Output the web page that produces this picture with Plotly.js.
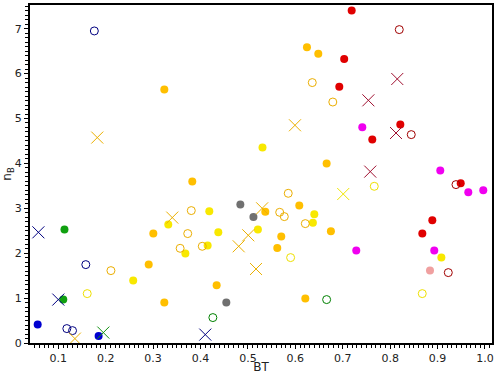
<!DOCTYPE html>
<html>
<head>
<meta charset="utf-8">
<script src="https://cdn.plot.ly/plotly-3.0.1.min.js"></script>
<style>
  body { margin: 0; background: #fff; }
  #chart { width: 500px; height: 374px; }
</style>
</head>
<body>
<div id="chart"></div>
<script>

// data (BT, n_B) per marker group
var navyOpenX = [0.176, 0.158, 0.118, 0.130];
var navyOpenY = [6.95, 1.746, 0.321, 0.276];

var navyCrossX = [0.058, 0.100, 0.410];
var navyCrossY = [2.465, 0.967, 0.187];

var blueX = [0.0565, 0.185];
var blueY = [0.41, 0.156];

var greenX = [0.113, 0.1105];
var greenY = [2.526, 0.967];

var greenOpenX = [0.666, 0.426];
var greenOpenY = [0.967, 0.566];

var greenCrossX = [0.195];
var greenCrossY = [0.232];

var greyX = [0.484, 0.5116, 0.4544];
var greyY = [3.082, 2.806, 0.90];

var goldX = [0.3236, 0.6245, 0.6484, 0.666, 0.3826, 0.5366, 0.6083, 0.5703, 0.5619, 0.675, 0.3004, 0.2907, 0.3236, 0.434, 0.621];
var goldY = [5.644, 6.586, 6.445, 3.996, 3.595, 2.926, 3.06, 2.37, 2.116, 2.488, 2.437, 1.746, 0.90, 1.285, 0.989];

var goldOpenX = [0.6357, 0.585, 0.567, 0.5767, 0.621, 0.3805, 0.373, 0.357, 0.4037, 0.211, 0.679];
var goldOpenY = [5.80, 3.334, 2.911, 2.815, 2.659, 2.949, 2.437, 2.109, 2.154, 1.612, 5.367];

var goldCrossX = [0.1822, 0.5992, 0.530, 0.3404, 0.5007, 0.4805, 0.517, 0.135];
var goldCrossY = [4.575, 4.849, 3.0, 2.793, 2.399, 2.154, 1.648, 0.098];

var yellowX = [0.5307, 0.640, 0.637, 0.332, 0.4185, 0.4375, 0.521, 0.415, 0.368, 0.258, 0.908];
var yellowY = [4.352, 2.866, 2.681, 2.637, 2.933, 2.465, 2.526, 2.169, 1.991, 1.39, 1.902];

var yellowOpenX = [0.590, 0.161, 0.7665, 0.8677];
var yellowOpenY = [1.902, 1.10, 3.49, 1.10];

var yellowCrossX = [0.701];
var yellowCrossY = [3.318];

var redX = [0.7188, 0.703, 0.6927, 0.8214, 0.7623, 0.9488, 0.8889, 0.8678];
var redY = [7.403, 6.325, 5.71, 4.864, 4.53, 3.557, 2.733, 2.437];

var redOpenX = [0.8192, 0.8445, 0.9388, 0.9226];
var redOpenY = [6.98, 4.641, 3.528, 1.568];

var redCrossX = [0.815, 0.754, 0.8123, 0.758];
var redCrossY = [5.88, 5.405, 4.677, 3.817];

var magentaX = [0.7412, 0.9057, 0.9648, 0.9964, 0.7285, 0.893];
var magentaY = [4.804, 3.84, 3.356, 3.40, 2.058, 2.058];

var pinkX = [0.884];
var pinkY = [1.612];

//////////////////////////////////////////////////

function dots(x, y, color) {
    return {x: x, y: y, type: 'scatter', mode: 'markers',
        marker: {symbol: 'circle', size: 8, color: color, line: {width: 0}}};
}

function rings(x, y, color) {
    return {x: x, y: y, type: 'scatter', mode: 'markers',
        marker: {symbol: 'circle-open', size: 8, color: color, line: {width: 1}}};
}

function crosses(x, y, color) {
    return {x: x, y: y, type: 'scatter', mode: 'markers',
        marker: {symbol: 'x-thin-open', size: 12, color: color, line: {width: 1}}};
}

var data = [
    dots(goldX, goldY, '#ffbf00'),
    dots(yellowX, yellowY, '#f8e800'),
    dots(greyX, greyY, '#707070'),
    dots(redX, redY, '#e00000'),
    dots(magentaX, magentaY, '#f000f0'),
    dots(pinkX, pinkY, '#f0a0a0'),
    dots(blueX, blueY, '#0000d0'),
    dots(greenX, greenY, '#10a010'),
    rings(goldOpenX, goldOpenY, '#ebae00'),
    rings(yellowOpenX, yellowOpenY, '#eee000'),
    rings(navyOpenX, navyOpenY, '#000080'),
    rings(greenOpenX, greenOpenY, '#008000'),
    rings(redOpenX, redOpenY, '#a00000'),
    crosses(goldCrossX, goldCrossY, '#ebb000'),
    crosses(yellowCrossX, yellowCrossY, '#f0e600'),
    crosses(navyCrossX, navyCrossY, '#000080'),
    crosses(greenCrossX, greenCrossY, '#109010'),
    crosses(redCrossX, redCrossY, '#a01030')
];

// layout
var axisFont = {family: 'DejaVu Sans', size: 11, color: '#222'};
var titleFont = {family: 'DejaVu Sans', size: 12, color: '#222'};

var layout = {
    width: 500,
    height: 374,
    margin: {l: 30, r: 8, t: 5, b: 31},
    paper_bgcolor: '#fff',
    plot_bgcolor: '#fff',
    showlegend: false,
    xaxis: {
        title: {text: 'BT', font: titleFont},
        range: [0.0403, 1.0148],
        dtick: 0.1,
        tick0: 0,
        tickformat: '.1f',
        ticks: 'outside',
        ticklen: 4,
        tickcolor: '#000',
        minor: {dtick: 0.01, ticks: 'outside', ticklen: 3, tickcolor: '#000'},
        showgrid: false,
        zeroline: false,
        showline: true,
        linecolor: '#000',
        linewidth: 2,
        mirror: true,
        tickfont: axisFont
    },
    yaxis: {
        title: {text: 'n<sub>B</sub>', font: titleFont},
        range: [0, 7.528],
        dtick: 1,
        tick0: 0,
        ticks: 'outside',
        ticklen: 4,
        tickcolor: '#000',
        minor: {dtick: 0.1, ticks: 'outside', ticklen: 3, tickcolor: '#000'},
        showgrid: false,
        zeroline: false,
        showline: true,
        linecolor: '#000',
        linewidth: 2,
        mirror: true,
        tickfont: axisFont
    }
};

// create plot
Plotly.newPlot('chart', data, layout, {displayModeBar: false, staticPlot: true});

</script>
</body>
</html>
